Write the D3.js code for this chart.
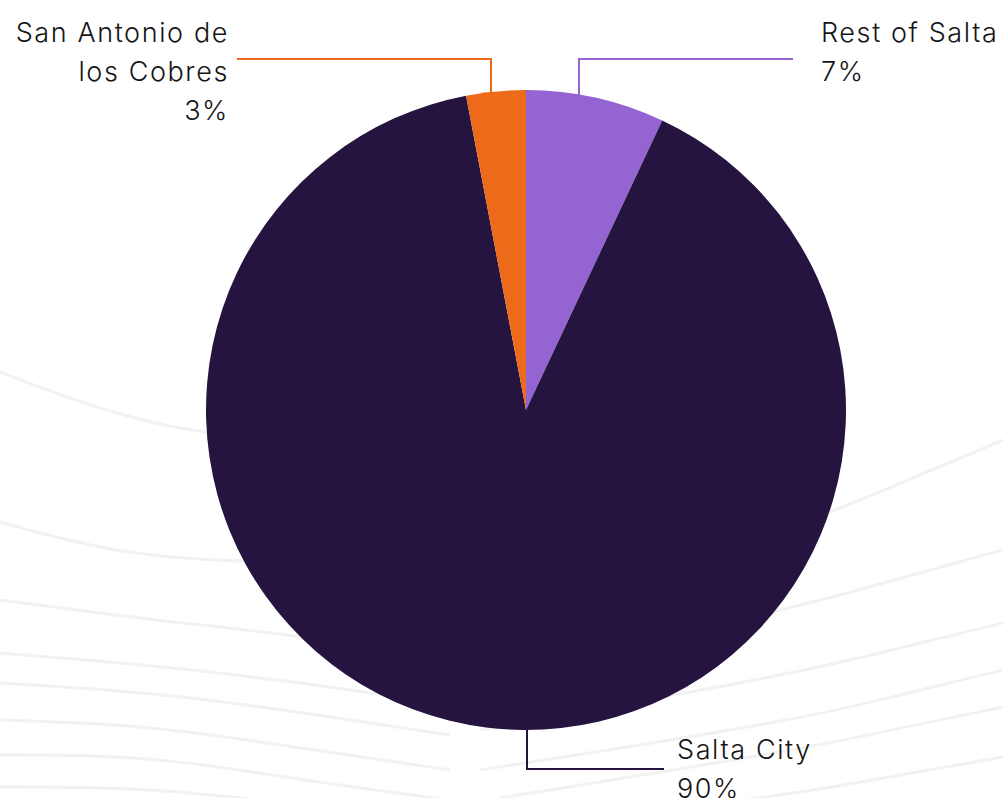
<!DOCTYPE html>
<html><head><meta charset="utf-8">
<script src="https://cdn.jsdelivr.net/npm/d3@7"></script>
<style>
html,body{margin:0;padding:0;background:#fff;}
svg{display:block;}
text{font-family:Inter,"Noto Sans",sans-serif;fill:#151515;font-weight:300;letter-spacing:1.6px;}
</style></head><body>
<svg id="chart" width="1003" height="798"></svg>
<script>
// ---- data ----
const categories = ["Rest of Salta", "Salta City", "San Antonio de los Cobres"];
const values = [7, 90, 3];
const labelLines = [["Rest of Salta"], ["Salta City"], ["San Antonio de", "los Cobres"]];
const colors = ["#9364d2", "#261440", "#ec6a1a"];

// ---- layout ----
const W = 1003, H = 798, cx = 526, cy = 410, R = 320;
const labelLayout = [
  {ax: 579, ay: 95, ky: 59, ex: 793, tx: 821, ty: 42, anchor: "start"},
  {ax: 527, ay: 720, ky: 769, ex: 664, tx: 677, ty: 759, anchor: "start"},
  {ax: 491, ay: 105, ky: 59, ex: 237, tx: 229, ty: 42, anchor: "end"}
];
// decorative background waves
const waves = [
  [[0,372],[100,410],[200,435],[320,440]],
  [[0,522],[120,555],[250,563],[400,560]],
  [[0,600],[150,620],[300,635],[450,660]],
  [[0,653],[150,665],[300,682],[450,705]],
  [[0,683],[150,692],[300,712],[450,735]],
  [[0,720],[150,725],[300,748],[450,770]],
  [[0,755],[150,755],[300,780],[450,800]],
  [[0,787],[150,787],[300,805]],
  [[700,560],[830,513],[920,475],[1003,440]],
  [[560,660],[800,607],[900,578],[1003,550]],
  [[480,730],[800,673],[900,648],[1003,623]],
  [[480,770],[800,720],[900,695],[1003,670]],
  [[500,798],[800,750],[900,728],[1003,707]],
  [[700,805],[800,793],[900,775],[1003,757]]
];

const svg = d3.select("#chart");
const line = d3.line().curve(d3.curveBasis);
svg.append("g").selectAll("path").data(waves).join("path")
  .attr("d", line).attr("fill", "none").attr("stroke", "#f2f2f2").attr("stroke-width", 3);

const data = categories.map((c, i) => ({name: c, value: values[i], lines: labelLines[i], color: colors[i], lay: labelLayout[i]}));
const pie = d3.pie().value(d => d.value).sort(null);
const arc = d3.arc().innerRadius(0).outerRadius(R);
const arcs = pie(data);

const g = svg.append("g").attr("transform", `translate(${cx},${cy})`);
g.selectAll("path").data(arcs).join("path")
  .attr("d", arc).attr("fill", d => d.data.color);

const lab = svg.append("g");
arcs.forEach(a => {
  const d = a.data, L = d.lay;
  lab.append("polyline")
    .attr("points", [[L.ax, L.ay], [L.ax, L.ky], [L.ex, L.ky]].map(p => p.join(",")).join(" "))
    .attr("fill", "none").attr("stroke", d.color).attr("stroke-width", 2);
  const t = lab.append("text").attr("x", L.tx).attr("y", L.ty)
    .attr("text-anchor", L.anchor).attr("font-size", 27);
  const rows = d.lines.concat([Math.round(a.value / d3.sum(values) * 100) + "%"]);
  rows.forEach((r, i) => t.append("tspan").attr("x", L.tx).attr("dy", i === 0 ? 0 : 39).text(r));
});
</script>
</body></html>
